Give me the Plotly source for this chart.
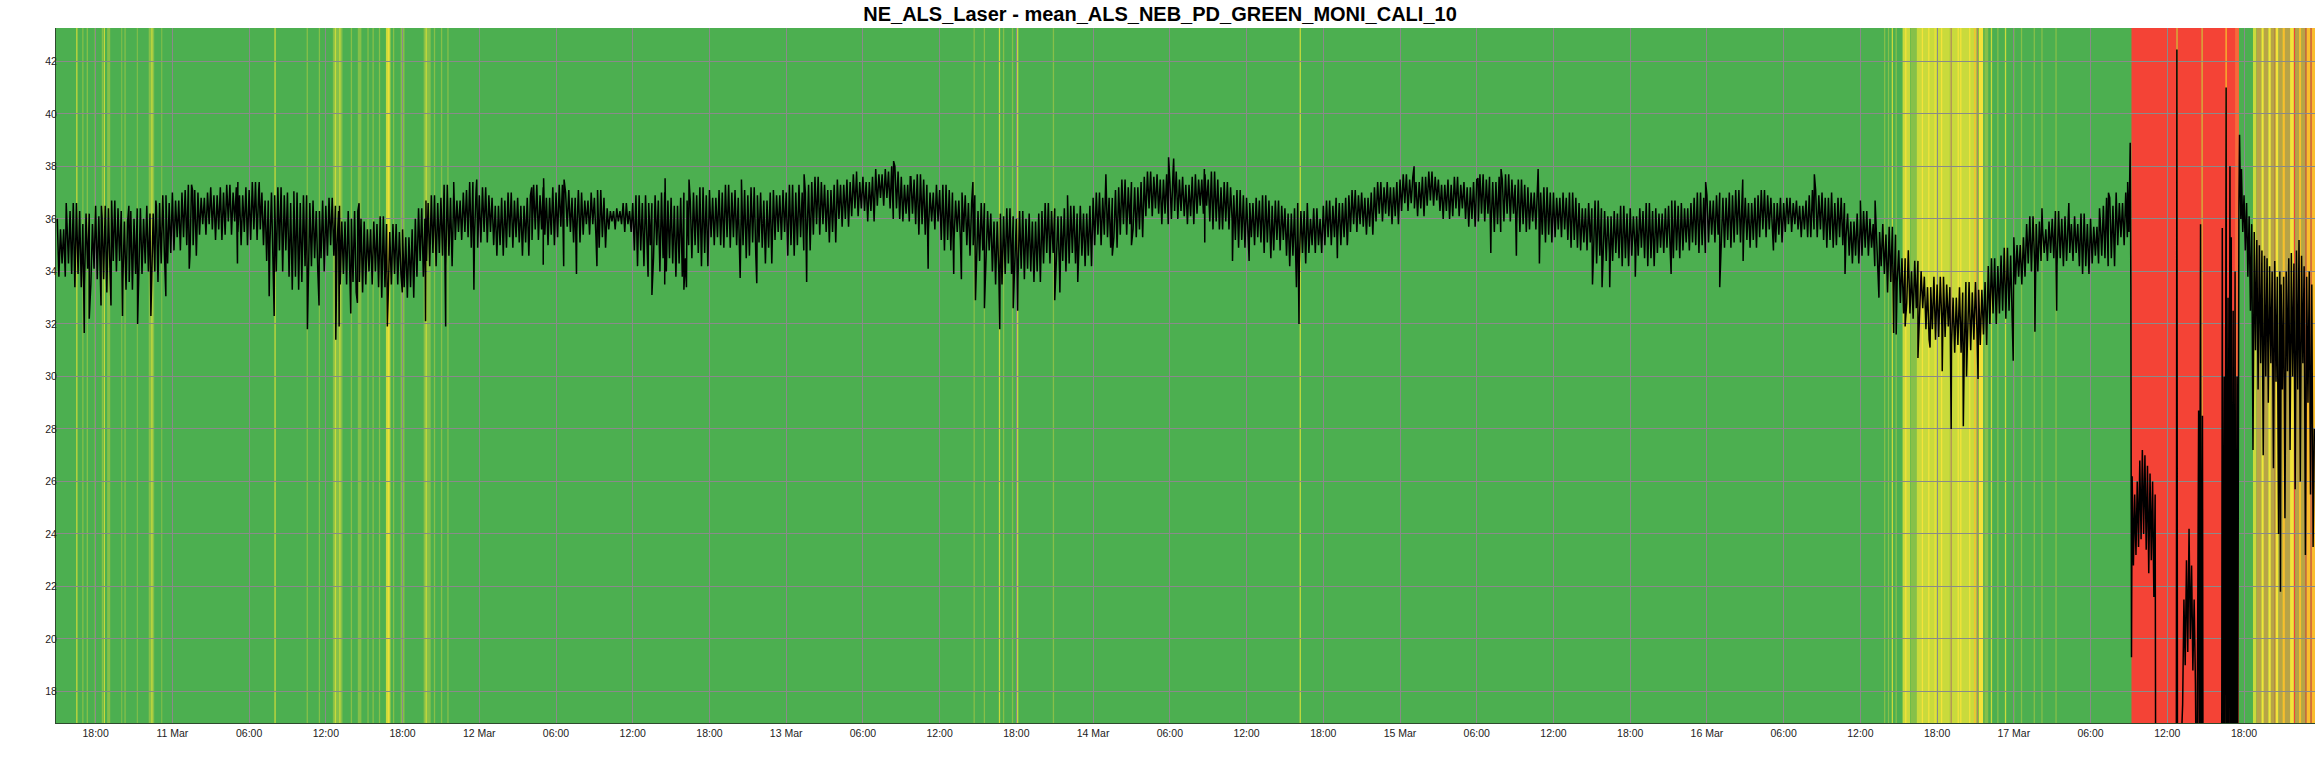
import datetime as dt
import plotly.graph_objects as go

TITLE = "NE_ALS_Laser - mean_ALS_NEB_PD_GREEN_MONI_CALI_10"
BASE = dt.datetime(2025, 3, 11, 0, 0)   # hours below are relative to 11 Mar 00:00
X_RANGE_H = [-9.1, 167.55]
Y_RANGE = [16.8, 43.27]
Y_TICKS = [18, 20, 22, 24, 26, 28, 30, 32, 34, 36, 38, 40, 42]

# x tick labels every 6 h, starting 10 Mar 18:00
TICK_HOURS = list(range(-6, 167, 6))
TICK_TEXT = ["18:00", "11 Mar", "06:00", "12:00",
             "18:00", "12 Mar", "06:00", "12:00",
             "18:00", "13 Mar", "06:00", "12:00",
             "18:00", "14 Mar", "06:00", "12:00",
             "18:00", "15 Mar", "06:00", "12:00",
             "18:00", "16 Mar", "06:00", "12:00",
             "18:00", "17 Mar", "06:00", "12:00", "18:00"]

# hourly envelope of the signal (first and second half of each hour), hour -9 .. 152
HOURS = list(range(-9, 153))
HI = [36.0, 36.3, 35.8, 36.5, 36.4, 36.3, 36.0, 36.5, 36.6,
      37.0, 37.1, 37.0, 37.2, 37.0, 37.2, 37.1, 37.0, 36.9, 37.0,
      36.6, 36.7, 36.5, 36.3, 36.0, 35.9, 35.8, 35.5, 35.6, 36.0,
      36.6, 36.8, 37.0, 37.1, 36.9, 36.8, 36.7, 36.8,
      36.9, 37.2, 37.0, 37.1, 37.0, 36.8, 36.4, 36.3, 36.6, 36.9,
      36.7, 36.8, 37.0, 36.9, 37.1, 37.0, 37.1, 36.9, 37.0, 37.1,
      37.0, 37.3, 37.4, 37.3, 37.5, 37.4, 37.6, 37.9, 37.8, 37.6,
      37.5, 37.3, 37.1, 37.0, 36.9, 36.3, 36.2, 36.1,
      36.0, 36.2, 36.3, 36.4, 36.2, 36.5, 36.8, 37.1, 37.2, 37.4,
      37.6, 37.7, 37.5, 37.6, 37.7, 37.5, 37.2, 36.9, 36.8, 36.7,
      36.5, 36.4, 36.6, 36.0, 36.5, 36.8, 36.9, 37.0, 37.2, 37.4,
      37.5, 37.6, 37.6, 37.5, 37.3, 37.4, 37.5,
      37.6, 37.5, 37.3, 37.2, 37.0, 37.0, 36.8, 36.6, 36.4, 36.3,
      36.2, 36.4, 36.3, 36.4, 36.5, 36.6, 36.8, 36.9, 37.0, 36.9,
      36.8, 36.9, 36.8, 36.6, 36.7, 36.9, 37.0, 36.6, 36.2, 36.0,
      35.8, 35.4, 34.8, 34.0, 33.8, 33.5, 33.4, 33.2, 33.6, 34.2,
      34.6, 35.3, 35.8, 35.9, 36.0, 36.1, 35.8, 36.0, 36.5, 37.0]
LO = [33.8, 33.9, 33.5, 33.7, 34.0, 33.6, 33.9, 34.0, 34.3,
      34.8, 35.0, 35.4, 35.6, 35.4, 35.5, 35.2, 35.0, 34.0, 33.8,
      33.6, 34.5, 34.6, 33.5, 33.6, 33.5, 33.4, 33.5, 33.4, 33.8,
      34.2, 34.6, 35.2, 35.3, 35.1, 35.0, 34.9, 35.1,
      35.2, 35.4, 35.3, 35.5, 35.4, 35.3, 35.6, 35.8, 34.8, 34.5,
      34.0, 34.3, 34.5, 34.7, 35.3, 34.9, 35.0, 34.6, 34.9, 35.2,
      34.6, 35.3, 35.4, 35.5, 36.0, 36.1, 36.3, 36.5, 36.4, 35.9,
      35.8, 35.6, 35.2, 35.2, 35.0, 34.4, 34.0, 33.9,
      33.7, 34.0, 34.3, 34.4, 34.3, 34.6, 35.0, 35.3, 35.4, 35.6,
      36.1, 36.2, 36.0, 36.1, 36.2, 35.9, 35.6, 35.2, 35.0, 35.1,
      34.8, 34.6, 34.3, 35.0, 35.0, 35.3, 35.5, 35.7, 35.9, 36.1,
      36.3, 36.4, 36.5, 36.3, 36.1, 36.0, 35.9,
      35.8, 35.9, 35.8, 35.6, 35.4, 35.3, 35.2, 34.8, 34.6, 34.4,
      34.5, 34.6, 34.5, 34.7, 34.8, 34.8, 35.0, 35.1, 35.2, 35.1,
      35.2, 35.3, 35.4, 35.5, 35.6, 35.3, 35.2, 35.0, 34.6, 34.6,
      34.2, 33.2, 32.8, 32.2, 31.8, 31.5, 31.2, 31.0, 31.6, 32.0,
      32.5, 33.5, 34.3, 34.4, 34.5, 34.4, 34.2, 34.3, 34.5, 35.0]
HI_B = [35.6, 36.6, 36.2, 36.1, 36.7, 35.9, 36.4, 36.2, 36.9,
        36.7, 37.3, 36.8, 36.9, 37.3, 36.9, 37.4, 36.7, 37.2, 36.6,
        36.9, 36.3, 36.8, 35.9, 36.3, 35.6, 36.1, 35.8, 35.3, 36.4,
        36.9, 37.3, 36.7, 37.4, 37.2, 36.5, 37.0, 36.5,
        37.3, 36.8, 37.3, 36.8, 36.7, 37.1, 36.3, 36.6, 36.9, 36.6,
        37.0, 36.5, 36.7, 37.2, 36.8, 37.3, 36.8, 37.2, 36.7, 36.9,
        37.3, 37.0, 37.6, 37.1, 37.3, 37.7, 37.4, 37.7, 38.0, 37.3,
        37.7, 37.0, 37.3, 36.7, 36.6, 36.6, 35.9, 36.4,
        36.3, 35.9, 36.6, 36.1, 36.5, 36.2, 37.0, 36.8, 37.5, 37.2,
        37.8, 37.5, 37.8, 37.3, 37.5, 37.8, 37.4, 37.1, 36.6, 36.9,
        36.7, 36.2, 36.3, 36.4, 36.7, 36.6, 37.1, 36.8, 37.4, 37.2,
        37.7, 37.4, 37.8, 37.3, 37.6, 37.2, 37.7,
        37.4, 37.7, 37.5, 37.0, 37.2, 36.8, 37.0, 36.4, 36.7, 36.1,
        36.5, 36.1, 36.6, 36.2, 36.7, 36.4, 37.0, 36.7, 36.8, 37.1,
        36.6, 37.1, 36.6, 36.8, 36.5, 37.1, 36.8, 36.8, 35.9, 36.3,
        35.5, 35.7, 34.5, 34.4, 33.4, 33.8, 33.0, 33.6, 33.3, 34.5,
        34.9, 35.0, 36.1, 35.6, 36.3, 35.8, 36.2, 35.7, 36.8, 36.6]
LO_B = [34.3, 33.4, 34.1, 33.2, 34.4, 33.3, 34.3, 33.6, 34.7,
        35.3, 34.6, 35.8, 35.2, 35.9, 35.0, 35.6, 34.4, 34.8, 33.3,
        34.2, 34.0, 35.0, 33.9, 33.2, 34.0, 33.0, 33.9, 33.0, 34.4,
        34.7, 34.2, 35.5, 34.9, 35.5, 34.6, 35.3, 34.6,
        35.6, 35.0, 35.7, 35.1, 35.8, 34.9, 35.9, 35.5, 34.2, 35.0,
        34.5, 33.8, 35.0, 34.2, 35.0, 35.3, 34.5, 35.1, 34.3, 35.5,
        35.0, 34.8, 35.8, 35.1, 35.7, 36.4, 35.9, 36.8, 36.0, 36.2,
        35.4, 35.9, 34.8, 35.5, 34.6, 34.8, 33.5, 34.3,
        34.1, 33.6, 34.7, 34.0, 34.7, 34.2, 35.4, 34.9, 35.8, 35.3,
        36.4, 35.8, 36.3, 35.8, 36.5, 35.6, 35.9, 34.9, 35.3, 34.7,
        35.2, 34.2, 34.7, 34.7, 35.3, 35.0, 35.8, 35.4, 36.2, 35.8,
        36.6, 36.1, 36.7, 36.0, 36.4, 35.7, 36.2,
        35.5, 36.2, 35.5, 35.9, 35.1, 35.6, 34.9, 35.1, 34.3, 34.7,
        34.2, 34.9, 34.2, 34.9, 34.5, 35.1, 34.7, 35.4, 34.9, 35.4,
        34.9, 35.6, 35.1, 35.8, 35.3, 35.6, 34.9, 35.3, 34.3, 34.9,
        33.9, 33.6, 32.4, 32.6, 31.4, 31.9, 30.9, 31.4, 31.2, 32.4,
        32.2, 33.8, 34.0, 34.7, 34.2, 34.7, 33.9, 34.6, 34.2, 35.3]

# isolated spikes (hour, value)
SPIKE_H = [-8.3, -6.89, -6.5, -5.58, -5.55, -4.8, -3.9, -3.4, -2.72, -1.68, -1.29, -0.51,
           1.32, 1.58, 5.09, 5.12, 6.79, 7.57, 7.96, 9.5, 10.56, 11.47, 12.78, 13.04,
           13.07, 13.95, 14.47, 14.6, 16.81, 17.98, 19.8, 19.83, 21.37, 22.0, 23.58,
           23.8, 28.1,
           29.0, 29.03, 30.6, 30.63, 31.6, 33.2, 37.2, 37.5, 38.5, 38.53, 40.0, 40.2,
           40.4, 44.4, 44.5, 45.7, 49.4, 49.6, 53.5, 56.4, 57.7, 59.1, 61.1, 61.7,
           62.6, 62.8, 63.5, 64.7,
           65.75, 66.1, 69.0, 69.4, 70.0, 70.8, 73.0, 73.5, 75.0, 77.9, 78.3, 80.7,
           80.73, 82.9, 84.2, 85.9, 87.9, 88.1, 91.1, 91.9, 97.1, 102.1,
           103.1, 103.9, 105.1, 106.8, 106.9, 111.05, 111.8, 112.4, 114.4, 117.2,
           119.9, 121.0, 122.8, 122.83, 125.2, 128.4, 130.8, 132.0, 133.15, 133.45,
           134.6, 134.8, 135.5, 136.5, 137.45, 138.4, 139.1, 140.05, 140.3, 141.2,
           143.95, 145.65, 146.2, 147.35, 148.3, 150.7, 151.4]
SPIKE_V = [36.6, 31.65, 32.2, 32.7, 36.5, 32.7, 32.3, 36.5, 32.0, 32.3, 36.7, 33.05,
           34.1, 37.1, 34.3, 37.4, 37.4, 33.05, 32.3, 37.05, 31.8, 32.7, 31.4, 31.9,
           36.5, 32.4, 32.8, 36.6, 31.9, 33.2, 32.1, 36.7, 31.9, 37.4, 33.3,
           37.5, 37.2,
           34.25, 37.55, 34.2, 37.5, 33.9, 34.2, 33.8, 33.1, 33.5, 37.55, 33.3, 33.4,
           37.5, 33.75, 37.5, 33.55, 37.7, 33.6, 37.8, 38.2, 37.6, 34.1, 33.9, 33.7,
           37.4, 32.9, 32.6, 31.8,
           32.6, 32.5, 32.9, 33.2, 36.9, 33.6, 37.7, 34.6, 35.0, 38.35, 38.3, 37.9,
           35.1, 34.4, 34.4, 34.5, 33.4, 32.0, 34.5, 35.2, 38.0, 37.55,
           34.7, 37.9, 34.6, 37.9, 34.3, 33.5, 33.4, 33.4, 33.8, 33.9,
           37.4, 33.4, 37.5, 34.4, 34.8, 37.7, 33.9, 36.7, 36.7, 33.0,
           31.65, 31.6, 31.9, 30.7, 31.1, 30.2, 28.0, 28.1, 30.0, 29.9,
           30.6, 31.7, 36.4, 32.5, 36.6, 36.4, 37.0]

# irregular final part (hour, value); values below the axis are off-chart
TAIL_H = [152.9, 153.0, 153.1, 153.15, 153.2,
          153.25, 153.35, 153.45, 153.55, 153.65, 153.75, 153.85, 153.95,
          154.05, 154.15, 154.25, 154.35, 154.45, 154.55, 154.65, 154.75,
          154.85, 154.95, 155.05, 155.1, 156.7, 156.75, 156.8,
          157.2, 157.3, 157.4, 157.5, 157.6, 157.7, 157.8, 157.9, 158.0, 158.1,
          158.2, 158.3, 158.45, 158.5, 158.6, 158.65, 158.75, 158.8,
          160.25, 160.3, 160.35, 160.45, 160.5, 160.6, 160.65, 160.75, 160.8,
          160.9, 160.95, 161.0, 161.05, 161.15, 161.2, 161.3, 161.35, 161.45,
          161.5, 161.6, 161.65, 161.75, 161.8, 161.9, 162.0, 162.1,
          162.2, 162.3, 162.4, 162.5, 162.6, 162.7, 162.8, 162.9, 163.0, 163.1,
          163.2, 163.3, 163.4, 163.5, 163.6, 163.7, 163.8, 163.9, 164.0, 164.1,
          164.2, 164.3, 164.4, 164.5, 164.6, 164.7, 164.8, 164.85, 164.9, 165.0,
          165.1, 165.2, 165.3, 165.4, 165.5, 165.6, 165.7, 165.8, 165.9, 166.0,
          166.1, 166.2, 166.3, 166.4, 166.5, 166.6, 166.7, 166.8, 166.9, 167.0,
          167.1, 167.2, 167.3, 167.4, 167.5]
TAIL_V = [37.4, 35.5, 38.9, 33.5, 19.3,
          26.2, 22.8, 25.5, 23.2, 26.0, 23.5, 26.8, 23.8,
          27.2, 24.0, 27.0, 23.4, 26.6, 22.5, 26.3, 23.0,
          26.0, 21.6, 25.5, 12.0, 12.0, 42.45, 12.0,
          17.5, 21.5, 19.0, 23.0, 19.5, 24.2, 20.0, 22.8, 18.8, 21.5,
          18.3, 12.0, 28.7, 12.0, 35.8, 12.0, 28.5, 12.0,
          12.0, 35.65, 12.0, 30.0, 12.0, 41.0, 12.0, 33.0, 12.0,
          38.0, 12.0, 35.3, 12.0, 32.5, 12.0, 34.0, 12.0, 30.0,
          14.0, 36.5, 39.2, 36.0, 37.9, 35.5, 36.9, 34.8,
          36.6, 33.8, 36.1, 32.5, 35.8, 27.2, 35.5, 31.0, 35.2, 29.5,
          35.0, 30.5, 34.8, 27.0, 34.6, 30.0, 34.5, 29.0, 34.2, 30.5,
          34.0, 26.5, 34.4, 29.8, 33.8, 24.0, 34.0, 21.8, 33.5, 29.5,
          33.8, 24.6, 34.0, 30.2, 34.5, 27.2, 34.7, 30.0, 34.3, 25.7,
          34.8, 29.5, 35.2, 26.0, 34.6, 30.5, 34.2, 23.2, 33.8, 29.0,
          34.0, 25.5, 33.5, 23.5, 28.0]

# background status stripes (start hour, end hour, level)
ST_START = [-7.52, -7.05, -6.7, -6.09, -5.52, -5.37, -5.1, -4.0, -3.75, -2.78, -1.85, -1.65, -0.87,
            7.98, 10.5, 11.45, 12.55, 12.7, 13.05, 13.95, 14.5, 15.25, 15.65, 16.15, 16.7, 16.85,
            17.25, 17.85, 19.65, 19.8, 20.45, 21.0, 21.5,
            62.65, 63.45, 64.63, 64.95, 65.65, 66.05, 68.85, 88.15,
            133.85, 134.15, 134.45, 134.75, 135.3, 135.5, 135.95, 136.4, 136.8, 137.3, 137.8,
            138.3, 139.0, 139.05, 139.6, 139.8, 140.5, 140.9, 141.1, 141.25, 141.7, 142.2,
            142.7, 143.3, 143.95, 144.55, 145.55, 146.15, 147.25,
            153.2, 156.72, 158.68, 160.55, 161.3,
            162.7, 162.97, 163.36, 163.55, 163.9, 164.1, 164.4, 164.46, 164.7, 165.0, 165.2,
            165.6, 165.9, 166.0, 166.3, 166.5, 166.8, 166.9, 167.2, 167.3]
ST_END = [-7.42, -6.95, -6.6, -5.99, -5.42, -5.27, -4.86, -3.92, -3.65, -2.7, -1.42, -1.55, -0.79,
          8.08, 10.6, 11.55, 13.3, 12.8, 13.15, 14.05, 14.78, 15.35, 15.75, 16.25, 17.05, 16.92,
          17.35, 18.15, 20.2, 19.9, 20.55, 21.1, 21.6,
          62.75, 63.55, 64.73, 65.05, 65.75, 66.15, 68.95, 88.25,
          133.95, 134.25, 134.55, 134.85, 135.9, 135.6, 136.4, 139.0, 136.9, 137.4, 137.88,
          138.4, 141.1, 139.15, 139.7, 139.9, 140.6, 141.0, 141.2, 141.6, 142.0, 142.3,
          142.8, 143.4, 144.05, 144.65, 145.65, 146.25, 147.35,
          161.6, 156.8, 158.76, 160.65, 161.6,
          162.97, 163.36, 163.55, 163.9, 164.1, 164.4, 164.46, 164.7, 165.0, 165.2, 165.6,
          165.9, 166.0, 166.3, 166.5, 166.8, 166.9, 167.2, 167.3, 167.6]
ST_LEVEL = [2, 1, 1, 1, 1, 2, 1, 1, 1, 1, 1, 2, 1,
            2, 1, 1, 1, 2, 2, 1, 1, 1, 1, 1, 2, 3,
            1, 1, 1, 2, 1, 1, 1,
            1, 1, 2, 1, 1, 2, 1, 2,
            1, 1, 2, 1, 2, 3, 1, 2, 3, 3, 3,
            3, 2, 7, 3, 3, 3, 4, 7, 3, 1, 2,
            1, 2, 1, 1, 1, 1, 1,
            5, 2, 2, 4, 8,
            2, 6, 3, 6, 3, 6, 5, 3, 6, 4, 6,
            3, 5, 6, 4, 6, 5, 4, 5, 4]
LEVEL_COLORS = {1: "#86C049", 2: "#C9DA3C", 3: "#F4E33A", 4: "#F9BD2E",
                5: "#F44336", 6: "#B7A347", 7: "#B08A5A", 8: "#F7683A"}

BG_GREEN = "#4CAF50"


def t(h):
    return BASE + dt.timedelta(hours=h)


# assemble the line: 8 samples per hour alternating between the read extremes
pts = []
for h, a, b, c, d in zip(HOURS, HI, LO, HI_B, LO_B):
    seq = [a, b, c, d, c, b, a, d]
    for k, v in enumerate(seq):
        pts.append((h + k * 0.125, v))
pts += list(zip(SPIKE_H, SPIKE_V))
pts.sort(key=lambda p: p[0])
pts += list(zip(TAIL_H, TAIL_V))
xs = [t(p[0]) for p in pts]
ys = [p[1] for p in pts]

fig = go.Figure()
fig.add_trace(go.Scatter(x=xs, y=ys, mode="lines",
                         line=dict(color="#000000", width=1.5),
                         showlegend=False, hoverinfo="skip"))

shapes = []
for s, e, lv in zip(ST_START, ST_END, ST_LEVEL):
    shapes.append(dict(type="rect", xref="x", yref="paper",
                       x0=t(s), x1=t(e), y0=0, y1=1,
                       fillcolor=LEVEL_COLORS[lv], line=dict(width=0),
                       layer="below"))

fig.update_layout(
    width=2320, height=764,
    paper_bgcolor="white", plot_bgcolor=BG_GREEN,
    margin=dict(l=56, r=5, t=28, b=41),
    shapes=shapes,
    title=dict(text="<b>" + TITLE + "</b>", x=0.5, xref="container", xanchor="center",
               y=0.982, yref="container", yanchor="middle",
               font=dict(family="Liberation Sans, Arial, sans-serif",
                         size=20, color="#000000")),
    font=dict(family="Liberation Sans, Arial, sans-serif", size=10.5, color="#222222"),
    xaxis=dict(range=[t(X_RANGE_H[0]), t(X_RANGE_H[1])],
               tickmode="array",
               tickvals=[t(h) for h in TICK_HOURS], ticktext=TICK_TEXT,
               showgrid=True, gridcolor="#8A8A8A", gridwidth=1,
               showline=True, linecolor="#2E4A2E", linewidth=1,
               ticks="", tickfont=dict(size=10.5), zeroline=False),
    yaxis=dict(range=Y_RANGE, tickmode="array", tickvals=Y_TICKS,
               showgrid=True, gridcolor="#8A8A8A", gridwidth=1,
               showline=True, linecolor="#2E4A2E", linewidth=1,
               ticks="", ticklabelstandoff=-4,
               tickfont=dict(size=10.5), zeroline=False),
)

fig.write_html("out.html", config={"displayModeBar": False},
               post_script="document.body.style.margin='0px';document.body.style.overflow='hidden';")
